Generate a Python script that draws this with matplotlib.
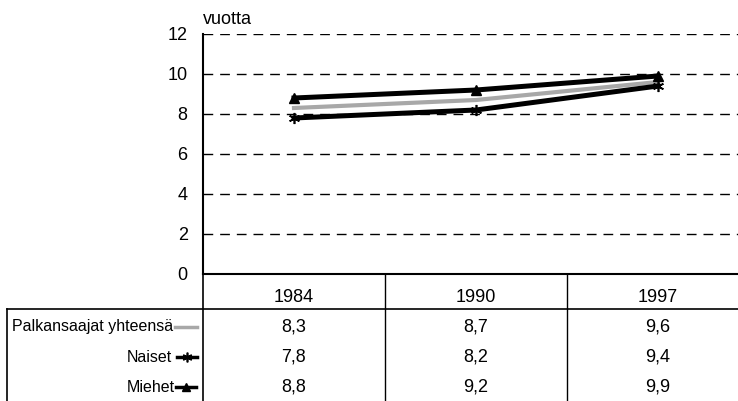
import matplotlib
matplotlib.use("Agg")
import matplotlib.pyplot as plt
from matplotlib.lines import Line2D
from matplotlib.transforms import blended_transform_factory

# ── data ─────────────────────────────────────────────────────────────────────
years = ["1984", "1990", "1997"]
series_names = ["Palkansaajat yhteensä", "Naiset", "Miehet"]
total = [8.3, 8.7, 9.6]
naiset = [7.8, 8.2, 9.4]
miehet = [8.8, 9.2, 9.9]
value_labels = [
    ["8,3", "8,7", "9,6"],
    ["7,8", "8,2", "9,4"],
    ["8,8", "9,2", "9,9"],
]
yticks = [0, 2, 4, 6, 8, 10, 12]

plt.rcParams["font.family"] = ["Liberation Sans", "DejaVu Sans"]
FS = 13
FS_ROW = 11.5
W, H = 738, 401
COLW = 182  # pixel width of one category column

fig = plt.figure(figsize=(W / 100, H / 100), dpi=100)
fig.patch.set_facecolor("white")

# overlay axes in pixel coords (for table grid / labels)
ov = fig.add_axes([0, 0, 1, 1])
ov.set_xlim(0, W)
ov.set_ylim(H, 0)
ov.axis("off")

# main plot axes: left 203px, y=0 at 274px, y=12 at 34px
x0, ybot, ytop = 203, 274, 34
ax = fig.add_axes([x0 / W, (H - ybot) / H, (W - x0) / W, (ybot - ytop) / H])
ax.set_xlim(0, (W - x0) / COLW)
ax.set_ylim(0, 12)
xs = [i + 0.5 for i in range(len(years))]

for y in yticks[1:]:
    ax.axhline(y, color="black", lw=1.0, ls=(0, (7, 5)), zorder=1)

ax.plot(xs, total, color="#a8a8a8", lw=3.0, zorder=2)
ax.plot(xs, naiset, color="black", lw=3.6, marker=(6, 2, 0), ms=8, mew=1.2, zorder=3)
ax.plot(xs, miehet, color="black", lw=3.6, marker="^", ms=7, zorder=3)

ax.set_yticks(yticks)
ax.set_yticklabels([str(v) for v in yticks], fontsize=FS)
ax.tick_params(axis="y", length=0, pad=11)
ax.set_xticks([])
for s in ["top", "right"]:
    ax.spines[s].set_visible(False)
ax.spines["left"].set_linewidth(1.5)
ax.spines["bottom"].set_linewidth(1.5)
ax.patch.set_alpha(0)
ax.text(0, 1.025, "vuotta", transform=ax.transAxes, fontsize=FS, ha="left", va="bottom")

# ── table under the plot ─────────────────────────────────────────────────────
tr = blended_transform_factory(ax.transData, ov.transData)
header_y = 297
row_ys = [327, 357, 387]
row_line = 309

# grid lines
ov.plot([7, W], [row_line, row_line], color="black", lw=1.2)
ov.plot([7, 7], [row_line, H], color="black", lw=1.2)
ov.plot([x0, x0], [ybot, H], color="black", lw=1.2)
for i in range(1, len(years)):
    ov.plot([i, i], [ybot, H], color="black", lw=1.0, transform=tr)

for x, yr in zip(xs, years):
    ov.text(x, header_y, yr, transform=tr, fontsize=FS, ha="center", va="center")
for ry, labels in zip(row_ys, value_labels):
    for x, lab in zip(xs, labels):
        ov.text(x, ry, lab, transform=tr, fontsize=FS, ha="center", va="center")

# row labels with legend keys
label_right = [173, 172, 175]
key_spans = [(175, 197), (177, 197), (176, 196)]
for ry, name, lr in zip(row_ys, series_names, label_right):
    ov.text(lr, ry, name, fontsize=FS_ROW, ha="right", va="center")
ov.add_line(Line2D([key_spans[0][0], key_spans[0][1]], [row_ys[0], row_ys[0]],
                   color="#a8a8a8", lw=2.5))
ov.add_line(Line2D([key_spans[1][0], key_spans[1][1]], [row_ys[1], row_ys[1]],
                   color="black", lw=2.5))
ov.plot([(key_spans[1][0] + key_spans[1][1]) / 2], [row_ys[1]], marker=(6, 2, 0),
        ms=7, color="black", mew=1.2)
ov.add_line(Line2D([key_spans[2][0], key_spans[2][1]], [row_ys[2], row_ys[2]],
                   color="black", lw=2.5))
ov.plot([(key_spans[2][0] + key_spans[2][1]) / 2], [row_ys[2]], marker="^",
        ms=6, color="black")

fig.savefig("out.png", dpi=100)
